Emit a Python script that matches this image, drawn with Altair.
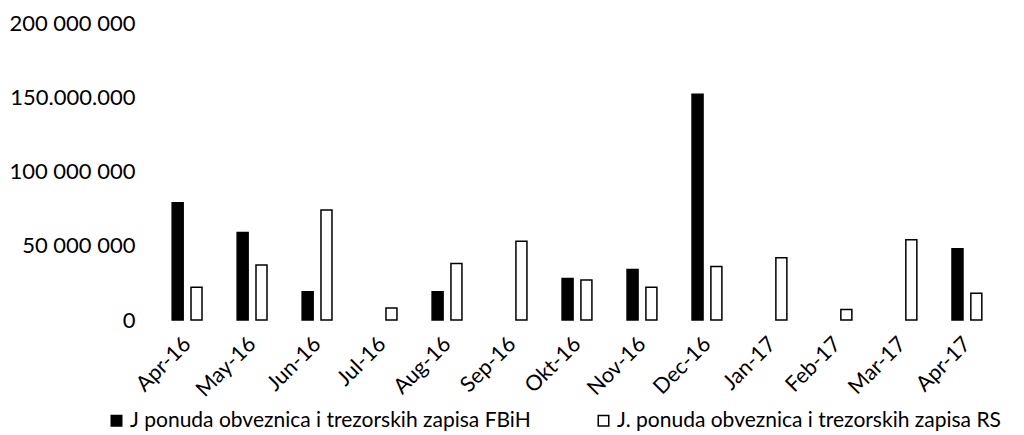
import altair as alt
import pandas as pd

months = ["Apr-16", "May-16", "Jun-16", "Jul-16", "Aug-16", "Sep-16", "Okt-16",
          "Nov-16", "Dec-16", "Jan-17", "Feb-17", "Mar-17", "Apr-17"]
fbih = [79000000, 59000000, 19000000, 0, 19000000, 0, 28000000,
        34000000, 152000000, 0, 0, 0, 48000000]
rs = [22000000, 37000000, 74000000, 8000000, 38000000, 53000000, 27000000,
      22000000, 36000000, 42000000, 7000000, 54000000, 18000000]
series = ["J ponuda obveznica i trezorskih zapisa FBiH",
          "J. ponuda obveznica i trezorskih zapisa RS"]

rows = []
for m, a, b in zip(months, fbih, rs):
    rows.append({"month": m, "series": series[0], "value": a})
    rows.append({"month": m, "series": series[1], "value": b})
df = pd.DataFrame(rows)

font = "Lato"

chart = alt.Chart(df).transform_filter("datum.value > 0").mark_bar(
    width=11, stroke="black", strokeWidth=1.5
).encode(
    x=alt.X("month:N", sort=months, title=None,
            scale=alt.Scale(domain=months, paddingInner=0.42, paddingOuter=0.25),
            axis=alt.Axis(labelAngle=-45, labelFontSize=21.5, labelFont=font,
                          labelColor="black", domain=False, ticks=False,
                          labelPadding=13, labelOffset=-7)),
    xOffset=alt.XOffset("series:N", sort=series, scale=alt.Scale(domain=series)),
    y=alt.Y("value:Q", title=None,
            scale=alt.Scale(domain=[0, 200000000]),
            axis=alt.Axis(values=[0, 50000000, 100000000, 150000000, 200000000],
                          labelExpr="datum.value == 150000000 ? '150.000.000' : replace(format(datum.value, ',d'), /,/g, ' ')",
                          labelFontSize=22, labelFont=font, labelColor="black",
                          domain=False, ticks=False, grid=False, labelPadding=17)),
    fill=alt.Fill("series:N", sort=series,
                  scale=alt.Scale(domain=series, range=["black", "white"]),
                  legend=alt.Legend(title=None, orient="none", legendX=-46, legendY=387,
                                    direction="horizontal", padding=0,
                                    labelFontSize=21, labelFont=font, labelColor="black",
                                    labelLimit=600, columnPadding=62, symbolType="square",
                                    symbolSize=110, symbolStrokeColor="black",
                                    symbolStrokeWidth=1.5, labelOffset=3)),
).properties(width=850, height=297).configure(
    padding={"left": 0, "top": 4, "right": 0, "bottom": 0}
).configure_view(stroke=None)

chart.save("out.html", embed_options={"renderer": "svg", "actions": False})
